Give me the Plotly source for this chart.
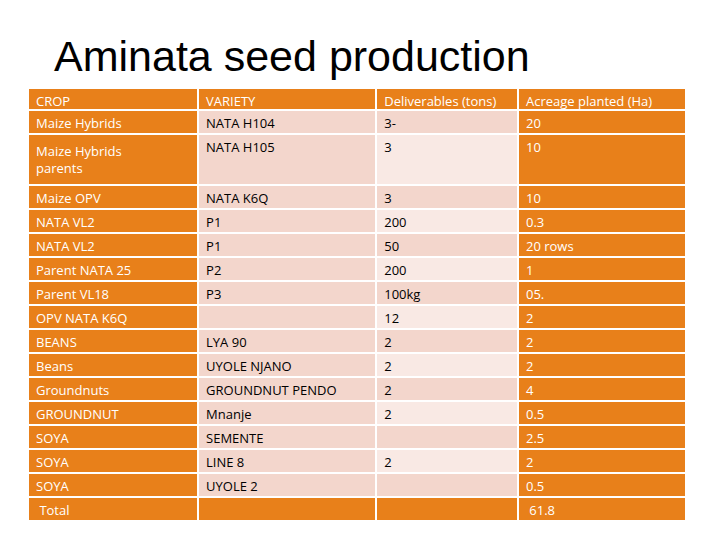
import plotly.graph_objects as go

crop = ["Maize Hybrids", "Maize Hybrids<br>parents", "Maize OPV", "NATA VL2", "NATA VL2",
        "Parent NATA 25", "Parent VL18", "OPV NATA K6Q", "BEANS", "Beans", "Groundnuts",
        "GROUNDNUT", "SOYA", "SOYA", "SOYA", " Total"]
variety = ["NATA H104", "NATA H105", "NATA K6Q", "P1", "P1", "P2", "P3", "", "LYA 90",
           "UYOLE NJANO", "GROUNDNUT PENDO", "Mnanje", "SEMENTE", "LINE 8", "UYOLE 2", ""]
deliverables = ["3-", "3", "3", "200", "50", "200", "100kg", "12", "2", "2", "2", "2", "", "2", "", ""]
acreage = ["20", "10", "10", "0.3", "20 rows", "1", "05.", "2", "2", "2", "4", "0.5",
           "2.5", "2", "0.5", " 61.8"]
headers = ["CROP", "VARIETY", "Deliverables (tons)", "Acreage planted (Ha)"]

orange = "#E8801A"
pink = "#F3D6CC"
light = "#F9E9E4"

n = len(crop)
last = n - 1
var_fill = [orange if i == last else pink for i in range(n)]
del_fill = [orange if i == last else (light if i % 2 else pink) for i in range(n)]
var_font = ["white" if i == last else "black" for i in range(n)]

fig = go.Figure(go.Table(
    domain=dict(x=[20 / 720, 678 / 720], y=[1 - 514 / 540, 1 - 80 / 540]),
    columnwidth=[168, 176, 140, 166],
    header=dict(values=headers, fill_color=orange, align="left", height=22,
                line=dict(color="white", width=2),
                font=dict(family="Open Sans", size=13, color="white")),
    cells=dict(values=[crop, variety, deliverables, acreage],
               fill_color=[[orange] * n, var_fill, del_fill, [orange] * n],
               font=dict(family="Open Sans", size=13,
                         color=[["white"] * n, var_font, var_font, ["white"] * n]),
               align="left", height=24,
               line=dict(color="white", width=2)),
))

fig.update_layout(
    width=720, height=540, margin=dict(l=0, r=0, t=0, b=0),
    paper_bgcolor="white",
    title=dict(text="Aminata seed production", x=46 / 720, xanchor="left",
               y=1 - 48 / 540, yanchor="middle",
               font=dict(family="Liberation Sans", size=43, color="black")),
)

fig.write_html("out.html")
